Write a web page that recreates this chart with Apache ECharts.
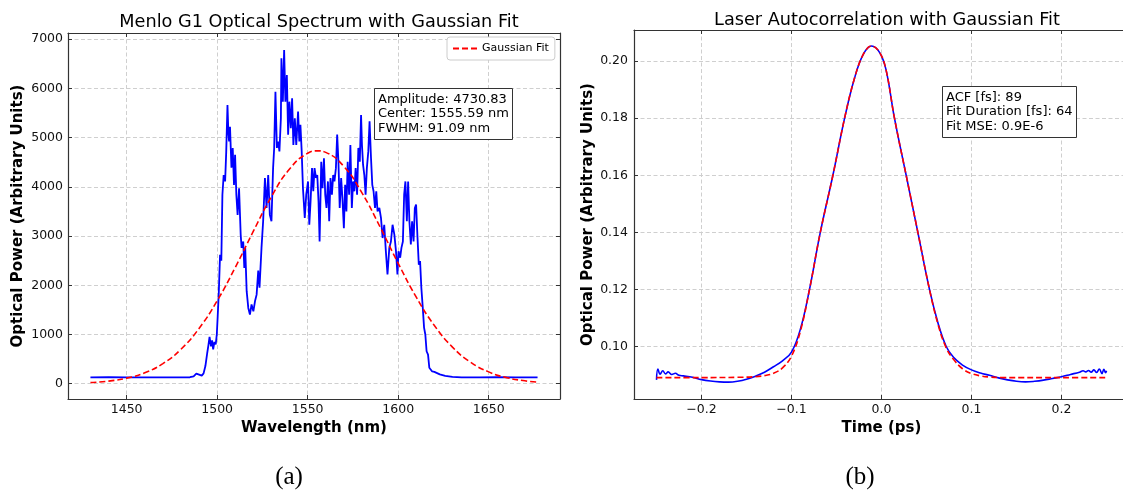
<!DOCTYPE html>
<html>
<head>
<meta charset="utf-8">
<script src="https://cdn.jsdelivr.net/npm/echarts@6/dist/echarts.min.js"></script>
<style>html,body{margin:0;padding:0;background:#fff}#c{width:1123px;height:490px}</style>
</head>
<body>
<div id="c"></div>
<script>
const specWl = [1430,1440,1450,1460,1470,1480,1485,1487,1488.5,1490,1491.5,1492.5,1493.5,1494.5,1495.2,1495.8,1496.6,1497.2,1497.8,1498.5,1499.2,1499.8,1500.3,1500.9,1501.6,1502.3,1502.9,1503.6,1504.4,1505.0,1505.7,1506.2,1506.6,1507.1,1507.9,1508.6,1509.3,1509.9,1510.6,1511.3,1512.1,1513.0,1513.5,1514.4,1515.0,1515.5,1516.3,1517.2,1518.1,1519.0,1520.0,1520.9,1521.8,1522.7,1523.4,1524.5,1525.4,1526.4,1527.3,1528.2,1529.1,1530.0,1530.9,1531.5,1532.2,1533.0,1533.7,1534.4,1535.2,1535.5,1536.3,1537.0,1537.7,1538.5,1539.2,1539.9,1540.7,1541.4,1542.1,1542.9,1543.7,1544.7,1545.4,1546.0,1546.7,1547.4,1548.4,1549.2,1550.2,1550.9,1551.6,1552.4,1553.1,1553.8,1554.6,1555.3,1556.0,1556.6,1557.5,1558.2,1559.0,1559.7,1560.4,1561.2,1561.9,1562.6,1563.4,1564.1,1564.8,1565.6,1566.3,1567.0,1567.7,1568.5,1569.2,1570.0,1570.7,1571.4,1572.1,1572.9,1573.6,1574.4,1575.1,1575.8,1576.5,1577.3,1578.0,1578.8,1579.5,1580.0,1580.6,1581.3,1582.0,1582.7,1583.5,1584.2,1585.0,1585.7,1586.4,1587.2,1587.9,1588.6,1589.6,1590.5,1591.4,1592.3,1593.2,1594.1,1595.1,1596.0,1596.9,1597.9,1598.8,1599.6,1600.2,1601.1,1601.8,1602.6,1603.3,1604.0,1604.8,1605.5,1606.2,1607.0,1607.7,1608.5,1609.2,1609.9,1610.6,1611.4,1612.1,1612.8,1613.6,1614.3,1615.0,1615.7,1616.5,1617.2,1618.8,1620.0,1623,1626,1630,1635,1645,1655,1665,1677];
const specPow = [130,132,128,131,130,129,132,150,205,185,165,210,360,620,790,950,760,880,700,850,800,1000,1370,1850,2620,2500,3840,4240,4110,4700,5660,5100,4920,5220,4390,4790,4040,4650,3840,3430,3970,3030,2760,2890,2350,2760,1880,1540,1405,1610,1470,1675,1810,2300,1950,2760,3300,4180,3570,4240,3430,3300,4380,4790,5930,4790,4920,4720,5390,6610,5730,6780,5730,6270,5060,5730,5190,5800,4850,5390,4850,5530,4920,5260,4720,3970,3370,3840,4110,3230,3700,4380,3910,4380,4180,4240,3700,2890,4510,3970,4580,3840,3570,4110,3300,4180,3840,4240,4110,4380,5060,4510,3570,4180,3770,3160,4040,3500,4510,3840,4850,3570,4110,3910,4380,3840,4790,4510,5460,4850,4450,4240,3840,4380,4720,5330,4580,4040,3910,3570,3910,3500,3570,3370,2960,3230,2690,2220,2760,2890,3230,3030,2690,2220,2690,2560,2760,2890,3840,4110,3300,4110,3300,2830,3300,2890,3570,3640,3030,2420,2490,1950,1540,1140,1000,660,590,325,250,240,190,160,140,130,130,132,129,130];
// Gaussian fit curve
const fitWl  = [1430,1440,1450,1460,1470,1480,1490,1500,1510,1520,1530,1540,1550,1555.6,1560,1570,1580,1590,1600,1610,1620,1630,1640,1650,1660,1670,1677];
const fitPow = [24,54,114,223,409,701,1124,1685,2362,3098,3801,4362,4681,4731,4700,4414,3877,3185,2447,1759,1183,744,437,241,124,60,34];
const fitInfoA = ['Amplitude: 4730.83', 'Center: 1555.59 nm', 'FWHM: 91.09 nm'];

// ---- Panel (b): autocorrelation ----
const acfTime  = [-0.2500,-0.2485,-0.2460,-0.2430,-0.2400,-0.2370,-0.2330,-0.2290,-0.2250,-0.2200,-0.2100,-0.2000,-0.1900,-0.1800,-0.1700,-0.1600,-0.1500,-0.1400,-0.1300,-0.1200,-0.1100,-0.1000,-0.0900,-0.0800,-0.0680,-0.0540,-0.0410,-0.0300,-0.0200,-0.0110,-0.0020,0.0050,0.0144,0.0274,0.0404,0.0533,0.0630,0.0719,0.0800,0.0900,0.1000,0.1100,0.1200,0.1300,0.1400,0.1500,0.1600,0.1700,0.1800,0.1900,0.2000,0.2100,0.2200,0.2240,0.2270,0.2300,0.2330,0.2360,0.2390,0.2420,0.2450,0.2470,0.2490,0.2500];
const acfPower = [0.0883,0.0921,0.0903,0.0915,0.0904,0.0911,0.0902,0.0906,0.0899,0.0897,0.0892,0.0884,0.0879,0.0876,0.0875,0.0878,0.0885,0.0896,0.0910,0.0929,0.0950,0.0980,0.1062,0.1200,0.1400,0.1600,0.1800,0.1940,0.2025,0.2053,0.2030,0.1970,0.1800,0.1600,0.1400,0.1200,0.1080,0.1000,0.0962,0.0935,0.0918,0.0907,0.0899,0.0890,0.0883,0.0878,0.0876,0.0878,0.0882,0.0888,0.0894,0.0902,0.0910,0.0915,0.0911,0.0916,0.0910,0.0918,0.0909,0.0921,0.0905,0.0920,0.0908,0.0915];
const acfFitTime  = [-0.2500,-0.2000,-0.1600,-0.1400,-0.1300,-0.1200,-0.1100,-0.1000,-0.0900,-0.0800,-0.0680,-0.0540,-0.0410,-0.0300,-0.0200,-0.0110,-0.0020,0.0050,0.0144,0.0274,0.0404,0.0533,0.0630,0.0719,0.0800,0.0900,0.1000,0.1100,0.1200,0.1350,0.2000,0.2500];
const acfFitPower = [0.0891,0.0891,0.0892,0.0894,0.0898,0.0906,0.0925,0.0966,0.1055,0.1200,0.1400,0.1600,0.1800,0.1940,0.2025,0.2053,0.2030,0.1970,0.1800,0.1600,0.1400,0.1200,0.1075,0.0995,0.0955,0.0922,0.0905,0.0897,0.0893,0.0891,0.0891,0.0891];
const fitInfoB = ['ACF [fs]: 89', 'Fit Duration [fs]: 64', 'Fit MSE: 0.9E-6'];

const pairs = (xs, ys) => xs.map((x, i) => [x, ys[i]]);
const FONT = 'DejaVu Sans';
const AX = '#333';
const gridLine = { show: true, lineStyle: { color: '#cfcfcf', type: [4, 2.5], width: 1 } };
const minus = v => (v < 0 ? '\u2212' : '') + Math.abs(v);

function mainAxis(opts) {
  return Object.assign({
    type: 'value', scale: true,
    axisLine: { show: true, onZero: false, lineStyle: { color: AX, width: 1.2 } },
    axisTick: { show: true, inside: true, length: 4, lineStyle: { color: AX } },
    axisLabel: { color: '#111', fontFamily: FONT, fontSize: 12.5, showMinLabel: false, showMaxLabel: false },
    splitLine: gridLine,
    nameLocation: 'middle',
    nameTextStyle: { fontFamily: FONT, fontWeight: 'bold', fontSize: 15, color: '#000' }
  }, opts);
}
function mirrorAxis(opts) {
  return Object.assign({
    type: 'value', scale: true,
    axisLine: { show: true, onZero: false, lineStyle: { color: AX, width: 1.2 } },
    axisTick: { show: true, inside: true, length: 4, lineStyle: { color: AX } },
    axisLabel: { show: false },
    splitLine: { show: false }
  }, opts);
}

const option = {
  animation: false,
  backgroundColor: '#fff',
  title: [
    { text: 'Menlo G1 Optical Spectrum with Gaussian Fit', left: 314, top: 8, textAlign: 'center', textStyle: { fontFamily: FONT, fontSize: 17.7, fontWeight: 'normal', color: '#000' } },
    { text: 'Laser Autocorrelation with Gaussian Fit', left: 882, top: 6, textAlign: 'center', textStyle: { fontFamily: FONT, fontSize: 17.7, fontWeight: 'normal', color: '#000' } },
    { text: fitInfoA.join('\n'), left: 374, top: 88, textAlign: 'left', padding: [4, 4], borderColor: '#333', borderWidth: 1, backgroundColor: '#fff', textStyle: { fontFamily: FONT, fontSize: 13, lineHeight: 14.5, fontWeight: 'normal', color: '#000' } },
    { text: fitInfoB.join('\n'), left: 942, top: 86, textAlign: 'left', padding: [4, 4], borderColor: '#333', borderWidth: 1, backgroundColor: '#fff', textStyle: { fontFamily: FONT, fontSize: 13, lineHeight: 14.5, fontWeight: 'normal', color: '#000' } },
    { text: '(a)', left: 284, top: 460, textAlign: 'center', textStyle: { fontFamily: 'Liberation Serif', fontSize: 25, fontWeight: 'normal', color: '#000' } },
    { text: '(b)', left: 855, top: 460, textAlign: 'center', textStyle: { fontFamily: 'Liberation Serif', fontSize: 25, fontWeight: 'normal', color: '#000' } }
  ],
  legend: {
    data: [{ name: 'Gaussian Fit', icon: 'path://M0,4h6v2h-6z M9,4h6v2h-6z M18,4h6v2h-6z' }],
    left: 447, top: 37, orient: 'vertical',
    padding: [6, 6], itemWidth: 24, itemHeight: 10, itemGap: 4,
    borderColor: '#cccccc', borderWidth: 1, borderRadius: 3, backgroundColor: '#fff',
    textStyle: { fontFamily: FONT, fontSize: 11, color: '#000' }
  },
  grid: [
    { left: 68, top: 33, width: 492, height: 366, outerBoundsMode: 'none' },
    { left: 634, top: 30, width: 495, height: 369, outerBoundsMode: 'none' }
  ],
  xAxis: [
    mainAxis({ gridIndex: 0, min: 1417.6, max: 1689.4, minInterval: 50, maxInterval: 50, name: 'Wavelength (nm)', nameGap: 19,
      axisLabel: { color: '#111', fontFamily: FONT, fontSize: 12.5, margin: 4, showMinLabel: false, showMaxLabel: false, formatter: v => String(v) } }),
    mainAxis({ gridIndex: 1, min: -0.275, max: 0.275, minInterval: 0.1, maxInterval: 0.1, name: 'Time (ps)', nameGap: 19,
      axisLabel: { color: '#111', fontFamily: FONT, fontSize: 12.5, margin: 4, showMinLabel: false, showMaxLabel: false, formatter: v => minus(Number(v.toFixed(1))).replace(/^(\u2212?)(\d+)$/, '$1$2.0') } }),
    mirrorAxis({ gridIndex: 0, position: 'top', min: 1417.6, max: 1689.4, minInterval: 50, maxInterval: 50 }),
    mirrorAxis({ gridIndex: 1, position: 'top', min: -0.275, max: 0.275, minInterval: 0.1, maxInterval: 0.1 })
  ],
  yAxis: [
    mainAxis({ gridIndex: 0, min: -310, max: 7125, minInterval: 1000, maxInterval: 1000, name: 'Optical Power (Arbitrary Units)', nameGap: 42,
      axisLabel: { color: '#111', fontFamily: FONT, fontSize: 12.5, margin: 5, showMinLabel: false, showMaxLabel: false, formatter: v => String(v) } }),
    mainAxis({ gridIndex: 1, min: 0.0816, max: 0.2109, minInterval: 0.02, maxInterval: 0.02, name: 'Optical Power (Arbitrary Units)', nameGap: 38,
      axisLabel: { color: '#111', fontFamily: FONT, fontSize: 12.5, margin: 6, showMinLabel: false, showMaxLabel: false, formatter: v => v.toFixed(2) } }),
    mirrorAxis({ gridIndex: 0, position: 'right', min: -310, max: 7125, minInterval: 1000, maxInterval: 1000 }),
    mirrorAxis({ gridIndex: 1, position: 'right', min: 0.0816, max: 0.2109, minInterval: 0.02, maxInterval: 0.02 })
  ],
  series: [
    { name: 'Spectrum', type: 'line', xAxisIndex: 0, yAxisIndex: 0, data: pairs(specWl, specPow), showSymbol: false, symbol: 'none',
      lineStyle: { color: '#0000ff', width: 1.8 }, itemStyle: { color: '#0000ff' } },
    { name: 'Gaussian Fit', type: 'line', xAxisIndex: 0, yAxisIndex: 0, data: pairs(fitWl, fitPow), smooth: true, showSymbol: false, symbol: 'none',
      lineStyle: { color: '#ff0000', width: 1.6, type: [6, 3] }, itemStyle: { color: '#ff0000' } },
    { name: 'ACF', type: 'line', xAxisIndex: 1, yAxisIndex: 1, data: pairs(acfTime, acfPower), smooth: 0.4, showSymbol: false, symbol: 'none',
      lineStyle: { color: '#0000ff', width: 1.6 }, itemStyle: { color: '#0000ff' } },
    { name: 'ACF Gaussian Fit', type: 'line', xAxisIndex: 1, yAxisIndex: 1, data: pairs(acfFitTime, acfFitPower), smooth: 0.4, showSymbol: false, symbol: 'none',
      lineStyle: { color: '#ff0000', width: 1.6, type: [6, 3] }, itemStyle: { color: '#ff0000' } }
  ]
};
const chart = echarts.init(document.getElementById('c'), null, { renderer: 'canvas' });
chart.setOption(option);
</script>
</body>
</html>
